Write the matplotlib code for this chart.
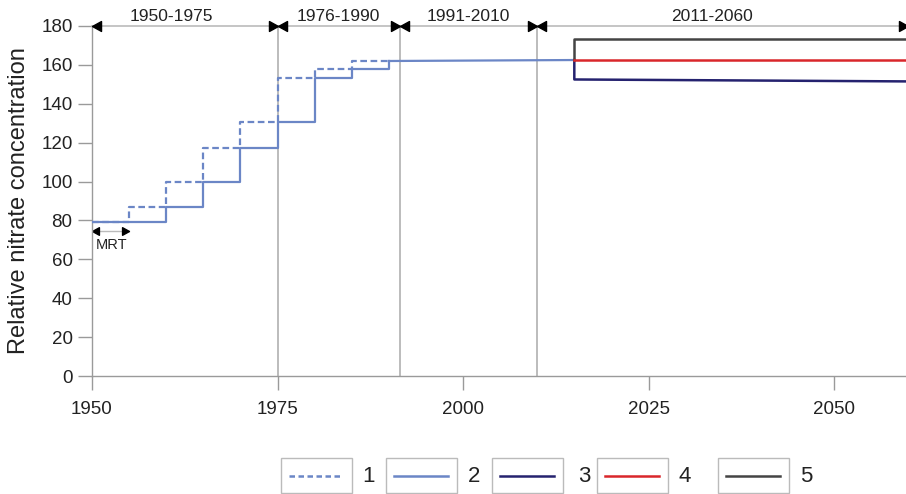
import matplotlib.pyplot as plt
from matplotlib.patches import Rectangle

plt.rcParams['font.family'] = ['Liberation Sans', 'DejaVu Sans']

# observed period, 5-year steps (series 2 = series 1 delayed by one MRT)
step_years = [1950, 1955, 1960, 1965, 1970, 1975, 1980, 1985, 1990]
conc_1 = [79, 87, 100, 117.5, 130.5, 153.5, 158, 162, 162]
conc_2 = [79, 79, 87, 100, 117.5, 130.5, 153.5, 158, 162]

# slow rise after 1990 up to start of scenarios
trend_years = [1990, 2015]
trend_vals = [162, 162.5]

# scenarios 2015-2060
scen_years = [2015, 2060]
scen_3 = [152.5, 151.5]
scen_4 = [162.5, 162.5]
scen_5 = [173.5, 173.5]

period_edges = [1950, 1975, 1991.5, 2010, 2060]
period_labels = ['1950-1975', '1976-1990', '1991-2010', '2011-2060']
period_label_x = [1960.7, 1983.2, 2000.7, 2033.6]

legend_labels = ['1', '2', '3', '4', '5']

blue = '#6b86c6'
navy = '#25226f'
red = '#d9262b'
dark = '#444444'
grey = '#9a9a9a'

fig = plt.figure(figsize=(9.06, 4.94), dpi=100)
ax = fig.add_axes([92 / 906, 118 / 494, 814 / 906, 350 / 494])
ax.set_xlim(1950, 2059.7)
ax.set_ylim(0, 180)

for s in ['top', 'right']:
    ax.spines[s].set_visible(False)
for s in ['left', 'bottom']:
    ax.spines[s].set_color(grey)
    ax.spines[s].set_linewidth(1.0)

ax.set_xticks([1950, 1975, 2000, 2025, 2050])
ax.set_yticks(range(0, 181, 20))
ax.tick_params(color=grey, length=10, width=1, labelsize=13.5, labelcolor='#222222')
ax.tick_params(axis='y', pad=4)
ax.tick_params(axis='x', pad=8)
ax.set_ylabel('Relative nitrate concentration', fontsize=17, labelpad=8, color='#222222')

# period boundaries
for x in period_edges[1:-1]:
    ax.plot([x, x], [0, 180], color='#aaaaaa', lw=1.1, zorder=1)

# period arrows along the top
ax.plot([period_edges[0], period_edges[-1]], [180, 180], color='#bbbbbb', lw=1.2,
        clip_on=False, zorder=2)
tip_left = [(0, 0), (1, -0.55), (1, 0.55), (0, 0)]
tip_right = [(0, 0), (-1, -0.55), (-1, 0.55), (0, 0)]
ax.plot(period_edges[:-1], [180] * (len(period_edges) - 1), ls='none', marker=tip_left,
        ms=13, color='black', clip_on=False, zorder=3)
ax.plot(period_edges[1:], [180] * (len(period_edges) - 1), ls='none', marker=tip_right,
        ms=13, color='black', clip_on=False, zorder=3)
for lx, lab in zip(period_label_x, period_labels):
    ax.text(lx, 185, lab, ha='center', va='center', fontsize=12.5, clip_on=False,
            color='#222222')

# MRT marker
mrt = [step_years[0], step_years[1]]
ax.plot(mrt, [74.5, 74.5], color='#bbbbbb', lw=1)
ax.plot([mrt[0]], [74.5], ls='none', marker=tip_left, ms=10, color='black')
ax.plot([mrt[1]], [74.5], ls='none', marker=tip_right, ms=10, color='black')
ax.text(sum(mrt) / 2 + 0.1, 67.5, 'MRT', ha='center', va='center', fontsize=10.5,
        color='#222222')

# series 1 and 2
ax.step(step_years, conc_1, where='post', color=blue, lw=1.6, dashes=(3, 1.6), zorder=4)
ax.step(step_years, conc_2, where='post', color=blue, lw=1.6, zorder=5)
ax.plot(trend_years, trend_vals, color=blue, lw=1.6, zorder=5)

# scenarios 3-5
for vals, c in [(scen_3, navy), (scen_5, dark), (scen_4, red)]:
    ax.plot([scen_years[0]] + scen_years, [trend_vals[-1]] + vals, color=c, lw=1.8,
            zorder=6)

# legend drawn as boxed samples along the bottom
lax = fig.add_axes([0, 0, 1, 1])
lax.set_xlim(0, 906)
lax.set_ylim(494, 0)
lax.axis('off')
box_x = [281, 386, 492, 597, 718]
label_x = [369, 474, 584, 685, 806]
styles = [dict(color=blue, dashes=(2.2, 1.4), lw=1.8),
          dict(color=blue, lw=1.8),
          dict(color=navy, lw=1.8),
          dict(color=red, lw=1.8),
          dict(color=dark, lw=1.8)]
for bx, tx, lab, st in zip(box_x, label_x, legend_labels, styles):
    lax.add_patch(Rectangle((bx, 458), 71, 35, fill=False, edgecolor='#bbbbbb', lw=1))
    lax.plot([bx + 8, bx + 62], [475.5, 475.5], **st)
    lax.text(tx, 476, lab, ha='center', va='center', fontsize=16, color='#222222')

fig.savefig('out.png', dpi=100)
